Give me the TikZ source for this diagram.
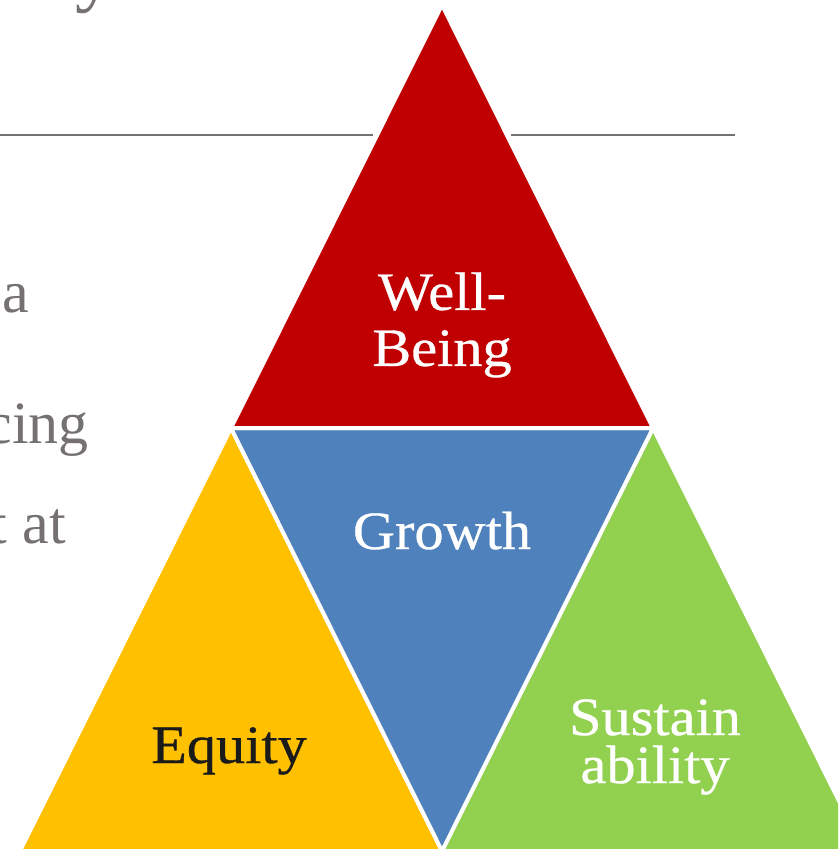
\documentclass[tikz,border=0pt]{standalone}
\usepackage{fontspec}
\setmainfont[FakeStretch=1.08,FakeBold=0.6]{Liberation Serif}
\newfontfamily\bodyfont{Liberation Serif}
\definecolor{wbred}{HTML}{C00000}
\definecolor{grblue}{HTML}{4F81BD}
\definecolor{eqyellow}{HTML}{FFC000}
\definecolor{sugreen}{HTML}{92D050}
\definecolor{txtgray}{HTML}{767171}
\definecolor{eqtext}{HTML}{1A1A1A}
\tikzset{
  tri/.style={draw=white, line width=4pt, line join=round},
  lbl/.style={font=\fontsize{54}{56}\selectfont, text=white, inner sep=0pt, align=center},
  bodytxt/.style={font=\bodyfont\fontsize{60}{70}\selectfont, text=txtgray, inner sep=0pt},
  rule/.style={draw=txtgray, line width=2pt}
}
\begin{document}
\begin{tikzpicture}[x=1pt,y=-1pt]
\useasboundingbox (0,0) rectangle (838,851);
\clip (0,0) rectangle (838,851);
\fill[white] (0,0) rectangle (838,851);
% vertices
\coordinate (A) at (442,5);
\coordinate (L) at (231,428);
\coordinate (R) at (653,428);
\coordinate (B) at (442,851);
\coordinate (BL) at (20,851);
\coordinate (BR) at (864,851);
% rule under title
\coordinate (r1a) at (0,134.5);
\coordinate (r1b) at (373,134.5);
\coordinate (r2a) at (511,134.5);
\coordinate (r2b) at (735,134.5);
\draw[rule] (r1a) -- (r1b);
\draw[rule] (r2a) -- (r2b);
% body text (cropped at left)
\node[bodytxt, font=\bodyfont\fontsize{80}{90}\selectfont, anchor=base east] (ty) at (116,-3) {y};
\node[bodytxt, anchor=base east] (ta) at (29,312) {a};
\node[bodytxt, anchor=base east] (tcing) at (89,443) {cing};
\node[bodytxt, anchor=base east] (tat) at (66,543) {t at};
% triangles
\filldraw[tri, fill=eqyellow] (L) -- (B) -- (BL) -- cycle;
\filldraw[tri, fill=sugreen] (R) -- (BR) -- (B) -- cycle;
\filldraw[tri, fill=grblue] (L) -- (R) -- (B) -- cycle;
\filldraw[tri, fill=wbred] (A) -- (R) -- (L) -- cycle;
% labels
\node[lbl, font=\fontsize{54}{56}\selectfont] (wb) at (442,325) {Well-\\Being};
\node[lbl, anchor=base] (gr) at (442,549) {Growth};
\node[lbl, anchor=base, text=eqtext] (eq) at (229,763) {Equity};
\node[lbl, font=\fontsize{54}{48}\selectfont] (su) at (655,747) {Sustain\\ability};
\end{tikzpicture}
\end{document}
